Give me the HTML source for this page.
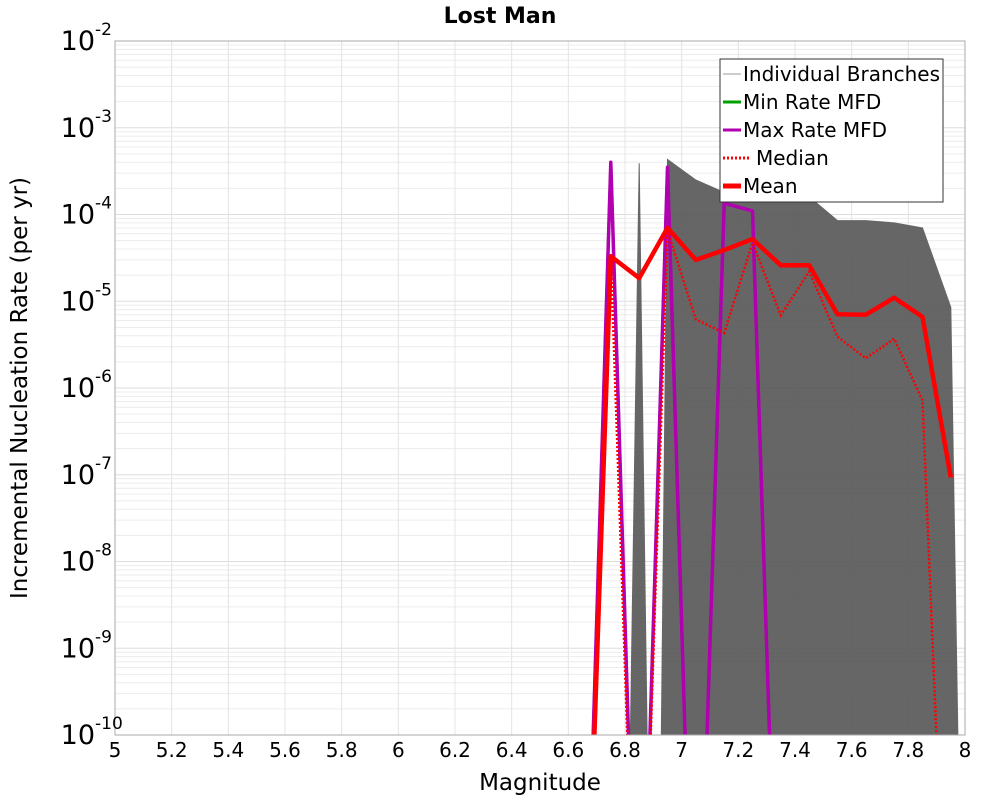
<!DOCTYPE html>
<html><head><meta charset="utf-8"><style>
html,body{margin:0;padding:0;background:#fff;overflow:hidden;width:1000px;height:800px;}
svg{display:block;font-family:"DejaVu Sans","Liberation Sans",sans-serif;}
</style></head><body>
<svg id="chart" width="1000" height="800" viewBox="0 0 1000 800" xmlns="http://www.w3.org/2000/svg">
<defs><clipPath id="pc"><rect x="115" y="41" width="850" height="694"/></clipPath></defs>
<text x="500" y="23" text-anchor="middle" font-size="22" font-weight="bold">Lost Man</text>
<g id="grid"></g>
<g id="series" clip-path="url(#pc)"></g>
<rect x="115" y="41" width="850" height="694" fill="none" stroke="#aaa" stroke-width="1"/>
<g id="yticks"></g>
<g id="xticks"></g>
<text x="540" y="790" text-anchor="middle" font-size="23">Magnitude</text>
<text transform="translate(27,388) rotate(-90)" text-anchor="middle" font-size="23">Incremental Nucleation Rate (per yr)</text>
<g>
<rect x="720" y="59" width="223" height="143" fill="#fff" stroke="#333" stroke-width="1"/>
<g><line x1="723" y1="74" x2="741" y2="74" stroke="#bbb" stroke-width="1.5"/><text x="743" y="81" font-size="20">Individual Branches</text></g>
<g><line x1="723" y1="102" x2="741" y2="102" stroke="#00a000" stroke-width="3"/><text x="743" y="109" font-size="20">Min Rate MFD</text></g>
<g><line x1="723" y1="130" x2="741" y2="130" stroke="#b000b0" stroke-width="3"/><text x="743" y="137" font-size="20">Max Rate MFD</text></g>
<g><line x1="723" y1="158" x2="751" y2="158" stroke="#f00" stroke-width="3" stroke-dasharray="2,2"/><text x="756" y="165" font-size="20">Median</text></g>
<g><line x1="723" y1="186" x2="741" y2="186" stroke="#f00" stroke-width="5"/><text x="743" y="193" font-size="20">Mean</text></g>
</g>
</svg>
<script>
const mags = [6.65,6.75,6.85,6.95,7.05,7.15,7.25,7.35,7.45,7.55,7.65,7.75,7.85,7.95];
const meanVals = [1e-14,3.3e-5,1.85e-5,7.0e-5,3.0e-5,3.9e-5,5.2e-5,2.6e-5,2.6e-5,7.1e-6,7.0e-6,1.1e-5,6.6e-6,9.3e-8];
const medianVals = [1e-14,3.3e-5,1e-14,6.5e-5,6.2e-6,4.3e-6,4.7e-5,6.9e-6,2.2e-5,3.9e-6,2.2e-6,3.7e-6,7.2e-7,1e-14];
const maxVals = [1e-14,4.0e-4,1e-14,3.5e-4,1e-14,1.35e-4,1.1e-4,1e-14,1e-14,1e-14,1e-14,1e-14,1e-14,1e-14];
const minVals = [1e-14,4.0e-4,1e-14,3.5e-4,1e-14,1.35e-4,1.1e-4,1e-14,1e-14,1e-14,1e-14,1e-14,1e-14,1e-14];
const envMags = [6.80,6.85,6.895,6.915,6.95,7.05,7.15,7.25,7.35,7.45,7.55,7.65,7.75,7.85,7.95,7.995];
const envVals = [1e-14,3.9e-4,1e-14,1e-14,4.3e-4,2.5e-4,1.8e-4,3.9e-4,3.5e-4,1.6e-4,8.5e-5,8.5e-5,8e-5,7e-5,8.5e-6,1e-14];
const xTicks = ["5","5.2","5.4","5.6","5.8","6","6.2","6.4","6.6","6.8","7","7.2","7.4","7.6","7.8","8"];
const yExps = [-2,-3,-4,-5,-6,-7,-8,-9,-10];

const X0=115,X1=965,Y0=41,Y1=735;
const xs = m => X0 + (m-5)/(8-5)*(X1-X0);
const ys = v => Y0 + (-2 - Math.log10(v))/8*(Y1-Y0);
const NS="http://www.w3.org/2000/svg";
function mk(tag, attrs, parent){const e=document.createElementNS(NS,tag);for(const k in attrs)e.setAttribute(k,attrs[k]);parent.appendChild(e);return e;}
const grid=document.getElementById('grid'), series=document.getElementById('series');
for(let d=-10; d<-2; d++){
  for(let k=1;k<10;k++){
    const v=k*Math.pow(10,d);
    const l=mk('line',{x1:X0,x2:X1,y1:ys(v),y2:ys(v),stroke:k===1?'#ddd':'#ececec','stroke-width':1},grid);
    
    
  }
}
xTicks.forEach(t=>{
  const x=xs(parseFloat(t));
  const l=mk('line',{x1:x,x2:x,y1:Y0,y2:Y1,stroke:'#e4e4e4','stroke-width':1},grid);
  
  
  const tx=mk('text',{x:x,y:757,'text-anchor':'middle','font-size':20},document.getElementById('xticks'));
  
  
  tx.textContent=t;
});
yExps.forEach(e=>{
  const y=ys(Math.pow(10,e));
  const t=mk('text',{x:95,y:y+9,'text-anchor':'end','font-size':27},document.getElementById('yticks'));
  
  
  t.textContent='10';
  const s=mk('text',{x:95,y:y-6,'font-size':17},document.getElementById('yticks'));
  
  
  s.textContent=String(e);
});
function pts(ms, vs){return ms.map((m,i)=>xs(m).toFixed(1)+','+ys(vs[i]).toFixed(1)).join(' ');}
const env=mk('polygon',{points:xs(envMags[0])+','+(Y1+5)+' '+pts(envMags,envVals)+' '+xs(envMags[envMags.length-1])+','+(Y1+5),fill:'#555','fill-opacity':0.9,stroke:'#666','stroke-width':1},series);


const minL=mk('polyline',{points:pts(mags,minVals),fill:'none',stroke:'#00a000','stroke-width':3},series);


const maxL=mk('polyline',{points:pts(mags,maxVals),fill:'none',stroke:'#b000b0','stroke-width':3.5,'stroke-linejoin':'round'},series);


const medL=mk('polyline',{points:pts(mags,medianVals),fill:'none',stroke:'#f00','stroke-width':2.5,'stroke-dasharray':'2,2'},series);


const meanL=mk('polyline',{points:pts(mags,meanVals),fill:'none',stroke:'#f00','stroke-width':4.5,'stroke-linejoin':'round'},series);


</script>
</body></html>
